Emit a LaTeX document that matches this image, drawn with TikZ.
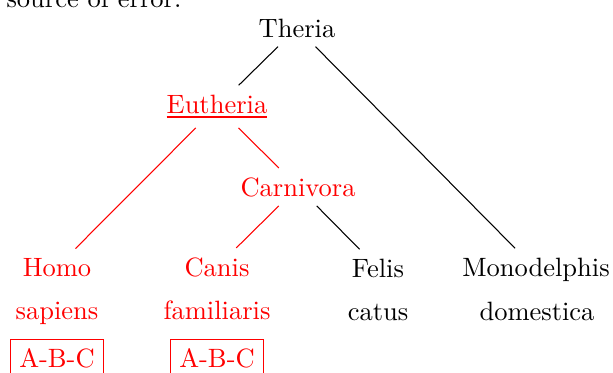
\documentclass[tikz,border=0pt]{standalone}
\begin{document}
\begin{tikzpicture}[x=0.3774pt,y=-0.3774pt,
  lbl/.style={anchor=base},
  hl/.style={text=red},
  tag/.style={anchor=base,draw=red,text=red}]
\useasboundingbox (0,0) rectangle (613,372);
\clip (0,0) rectangle (613,372);

% trailing text of the paragraph above the tree
\node[anchor=base west, inner sep=0pt] (note) at (6,7) {source of error.};

% inner nodes
\node[lbl] (theria) at (297,37) {Theria};
\node[lbl,hl] (eutheria) at (217,113) {\underline{Eutheria}};
\node[lbl,hl] (carnivora) at (298,196) {Carnivora};

% leaves
\node[lbl,hl] (homo) at (57,276) {Homo};
\node[lbl,hl] (homo2) at (57,319) {sapiens};
\node[tag] (homotag) at (57,367) {A-B-C};

\node[lbl,hl] (canis) at (217,276) {Canis};
\node[lbl,hl] (canis2) at (217,319) {familiaris};
\node[tag] (canistag) at (217,367) {A-B-C};

\node[lbl] (felis) at (378,277) {Felis};
\node[lbl] (felis2) at (378,320) {catus};

\node[lbl] (mono) at (536,276) {Monodelphis};
\node[lbl] (mono2) at (537,320) {domestica};

% edges
\draw (theria) -- (eutheria);
\draw (theria) -- (mono);
\draw[red] (eutheria) -- (homo);
\draw[red] (eutheria) -- (carnivora);
\draw[red] (carnivora) -- (canis);
\draw (carnivora) -- (felis);
\end{tikzpicture}
\end{document}
